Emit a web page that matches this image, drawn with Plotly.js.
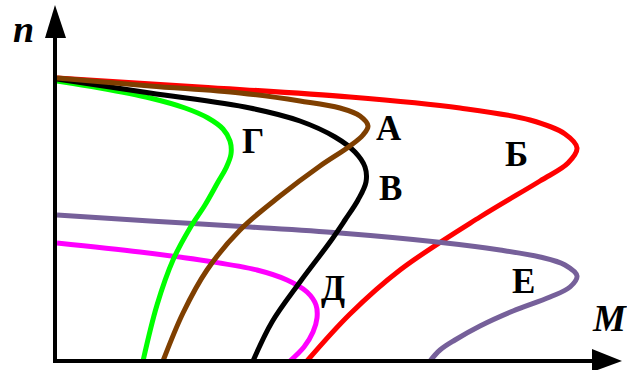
<!DOCTYPE html>
<html><head><meta charset="utf-8">
<script src="https://cdn.plot.ly/plotly-3.0.1.min.js"></script>
<style>html,body{margin:0;padding:0;background:#fff}#c{width:627px;height:370px}</style>
</head><body><div id="c"></div>
<script>
// Curve А (brown)
const A_M = [2,95,185,245,285,305,313,308,295,265,225,185,152,128,108];
const A_n = [283,275,268,260,253,245,235,226,215,195,165,131,91,48,0];
// Curve Б (red)
const B_M = [2,145,295,405,475,510,522,513,485,425,345,295,252];
const B_n = [283,274,264,253,241,227,213,198,180,144,91,47,0];
// Curve В (black)
const V_M = [2,95,195,245,280,300,310,311,303,290,275,245,217,198];
const V_n = [282,268,253,240,224,209,194,179,161,141,119,79,39,0];
// Curve Г (green)
const G_M = [2,45,95,130,153,168,175,176,171,163,150,135,118,102,88];
const G_n = [280,273,263,253,243,232,220,207,193,179,156,133,101,56,0];
// Curve Д (magenta)
const D_M = [2,85,152,202,232,252,261,262,258,249,235];
const D_n = [118,109,100,91,81,69,56,43,29,14,0];
// Curve Е (purple)
const E_M = [2,95,195,285,382,445,485,510,522,515,495,458,425,400,385,375];
const E_n = [146,140,134,128,119,111,104,96,85,74,64,50,35,21,11,0];

const labels = ["А","Б","В","Г","Д","Е"];
const labelM = [334,461,335,198,278,468];
const labelN = [233,207,173,220,73,80];

function tr(x,y,color){
  return {x:x,y:y,mode:'lines',type:'scatter',hoverinfo:'skip',
    line:{color:color,width:5,shape:'spline',smoothing:1}};
}
const data = [
  tr(B_M,B_n,'#ff0000'),
  tr(E_M,E_n,'#76609a'),
  tr(D_M,D_n,'#ff00ff'),
  tr(G_M,G_n,'#00ff00'),
  tr(V_M,V_n,'#000000'),
  tr(A_M,A_n,'#7f3f00')
];
const serif = "'Liberation Serif', 'Times New Roman', serif";
const ann = labels.map((t,i)=>({x:labelM[i],y:labelN[i],text:'<b>'+t+'</b>',showarrow:false,
  font:{family:serif,size:35,color:'#000'}}));
ann.push({x:-32,y:332,text:'<b><i>n</i></b>',showarrow:false,font:{family:serif,size:38,color:'#000'}});
ann.push({x:554,y:43,text:'<b><i>M</i></b>',showarrow:false,font:{family:serif,size:37,color:'#000'}});

const layout = {
  width:627,height:370,margin:{l:0,r:0,t:0,b:0},
  paper_bgcolor:'#fff',plot_bgcolor:'#fff',showlegend:false,
  xaxis:{range:[-55,572],visible:false,fixedrange:true},
  yaxis:{range:[-9,361],visible:false,fixedrange:true},
  annotations:ann,
  shapes:[
    {type:'line',xref:'x',yref:'y',x0:0,y0:0,x1:0,y1:330,line:{color:'#000',width:4},layer:'above'},
    {type:'line',xref:'x',yref:'y',x0:-2,y0:0,x1:540,y1:0,line:{color:'#000',width:4},layer:'above'},
    {type:'path',xref:'x',yref:'y',path:'M0,356 L-10,323 L11,323 Z',fillcolor:'#000',line:{width:0},layer:'above'},
    {type:'path',xref:'x',yref:'y',path:'M567,0 L537,12 L537,-11 Z',fillcolor:'#000',line:{width:0},layer:'above'}
  ]
};
Plotly.newPlot('c',data,layout,{staticPlot:true,displayModeBar:false});
</script></body></html>
